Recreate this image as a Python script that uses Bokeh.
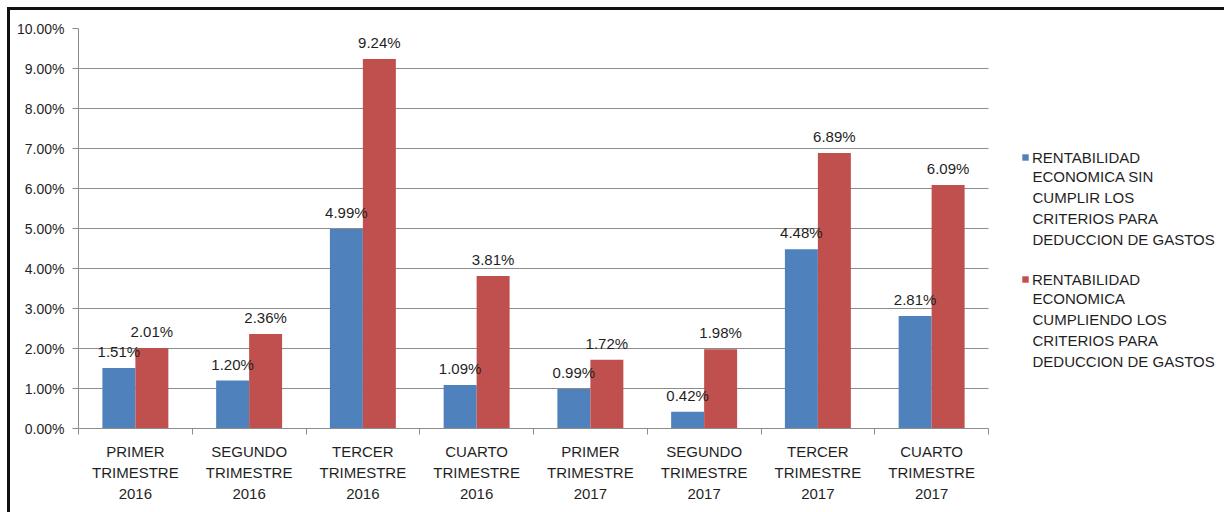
from bokeh.plotting import figure
from bokeh.core.properties import value
from bokeh.models import (ColumnDataSource, FixedTicker, PrintfTickFormatter, Range1d,
                          Legend, LegendItem, LabelSet, Label)
from bokeh.embed import file_html
from bokeh.resources import INLINE

# Quarterly economic return, with and without the expense-deduction criteria (%)
categories = ["PRIMER\nTRIMESTRE\n2016", "SEGUNDO\nTRIMESTRE\n2016", "TERCER\nTRIMESTRE\n2016",
              "CUARTO\nTRIMESTRE\n2016", "PRIMER\nTRIMESTRE\n2017", "SEGUNDO\nTRIMESTRE\n2017",
              "TERCER\nTRIMESTRE\n2017", "CUARTO\nTRIMESTRE\n2017"]
sin_criterios = [1.51, 1.20, 4.99, 1.09, 0.99, 0.42, 4.48, 2.81]
con_criterios = [2.01, 2.36, 9.24, 3.81, 1.72, 1.98, 6.89, 6.09]
series_names = [
    "RENTABILIDAD\nECONOMICA SIN\nCUMPLIR LOS\nCRITERIOS PARA\nDEDUCCION DE GASTOS",
    "RENTABILIDAD\nECONOMICA\nCUMPLIENDO LOS\nCRITERIOS PARA\nDEDUCCION DE GASTOS",
]
y_ticks = [0, 1, 2, 3, 4, 5, 6, 7, 8, 9, 10]

FONT = "Liberation Sans"
TEXT = "#1f1f1f"
AXIS = "#8c8c8c"
BLUE = "#4F81BD"
RED = "#C0504D"
BAR_W = 0.29

# layout in pixels: bar area of 910 px, plus room on the right for the legend
PLOT_W, LEGEND_W, PLOT_H = 910, 236, 400
LEG_X = 943            # legend glyph left, px from frame left
LEG_LINE = 20.75       # legend text line pitch
LEG_TOP = [271, 149]   # first legend line centre, px from frame bottom

n = len(categories)
centers = [i + 0.5 for i in range(n)]
src = ColumnDataSource(dict(
    x_sin=[c - BAR_W / 2 for c in centers],
    x_con=[c + BAR_W / 2 for c in centers],
    sin=sin_criterios,
    con=con_criterios,
    sin_txt=[f"{v:.2f}%" for v in sin_criterios],
    con_txt=[f"{v:.2f}%" for v in con_criterios],
))

p = figure(frame_width=PLOT_W + LEGEND_W, frame_height=PLOT_H,
           output_backend="svg", toolbar_location=None,
           x_range=Range1d(0, n * (PLOT_W + LEGEND_W) / PLOT_W), y_range=Range1d(0, 10),
           min_border_left=68, min_border_right=0, min_border_top=18, min_border_bottom=84)
p.margin = (7, 0, 0, 7)
p.styles = {"border-top": "3px solid #111111", "border-left": "3px solid #111111"}
p.outline_line_color = None
p.background_fill_color = "white"
p.border_fill_color = "white"

r_sin = p.vbar(x="x_sin", top="sin", width=BAR_W, source=src, color=BLUE, line_color=None)
r_con = p.vbar(x="x_con", top="con", width=BAR_W, source=src, color=RED, line_color=None)

for col_x, col_y, col_t in (("x_sin", "sin", "sin_txt"), ("x_con", "con", "con_txt")):
    p.add_layout(LabelSet(x=col_x, y=col_y, text=col_t, source=src, text_align="center",
                          text_baseline="bottom", y_offset=8, text_font=value(FONT),
                          text_font_size="15px", text_color=TEXT))

# x axis: labels at group centres, tick marks on group boundaries
xa = p.xaxis[0]
xa.bounds = (0, n)
xa.ticker = FixedTicker(ticks=centers, minor_ticks=list(range(n + 1)))
xa.major_label_overrides = {c: lab for c, lab in zip(centers, categories)}
xa.major_tick_line_color = None
xa.minor_tick_line_color = AXIS
xa.minor_tick_out = 6
xa.minor_tick_in = 0
xa.axis_line_color = AXIS
xa.major_label_text_font = FONT
xa.major_label_text_font_size = "15px"
xa.major_label_text_color = TEXT
xa.major_label_text_line_height = 1.25
xa.major_label_standoff = 8

ya = p.yaxis[0]
ya.ticker = FixedTicker(ticks=y_ticks, minor_ticks=[])
ya.formatter = PrintfTickFormatter(format="%.2f%%")
ya.axis_line_color = AXIS
ya.major_tick_line_color = AXIS
ya.major_tick_out = 6
ya.major_tick_in = 0
ya.major_label_text_font = FONT
ya.major_label_text_font_size = "14px"
ya.major_label_text_color = TEXT
ya.major_label_standoff = 8

p.xgrid.grid_line_color = None
p.ygrid.ticker = FixedTicker(ticks=y_ticks)
p.ygrid.cross_bounds = (0, n)
p.ygrid.grid_line_color = AXIS
p.ygrid.grid_line_width = 1

# legend: square + first line from a real Legend, remaining lines as labels
heads = [s.split("\n", 1)[0] for s in series_names]
tails = [s.split("\n", 1)[1] for s in series_names]
item_h = 17
legend = Legend(items=[LegendItem(label=heads[0], renderers=[r_sin]),
                       LegendItem(label=heads[1], renderers=[r_con])],
                location=(LEG_X, LEG_TOP[1] - item_h / 2), orientation="vertical",
                label_text_font=FONT, label_text_font_size="15px", label_text_color=TEXT,
                label_height=item_h, glyph_width=8, glyph_height=8, label_standoff=3,
                spacing=int(LEG_TOP[0] - LEG_TOP[1] - item_h),
                background_fill_alpha=0, border_line_color=None, padding=0, margin=0)
p.add_layout(legend, "center")

for top, tail in zip(LEG_TOP, tails):
    p.add_layout(Label(x=LEG_X + 11, y=top - LEG_LINE / 2, x_units="screen", y_units="screen",
                       text=tail, text_font=FONT, text_font_size="15px", text_color=TEXT,
                       text_baseline="top", text_line_height=1.235))

open("out.html", "w").write(file_html(p, INLINE))
